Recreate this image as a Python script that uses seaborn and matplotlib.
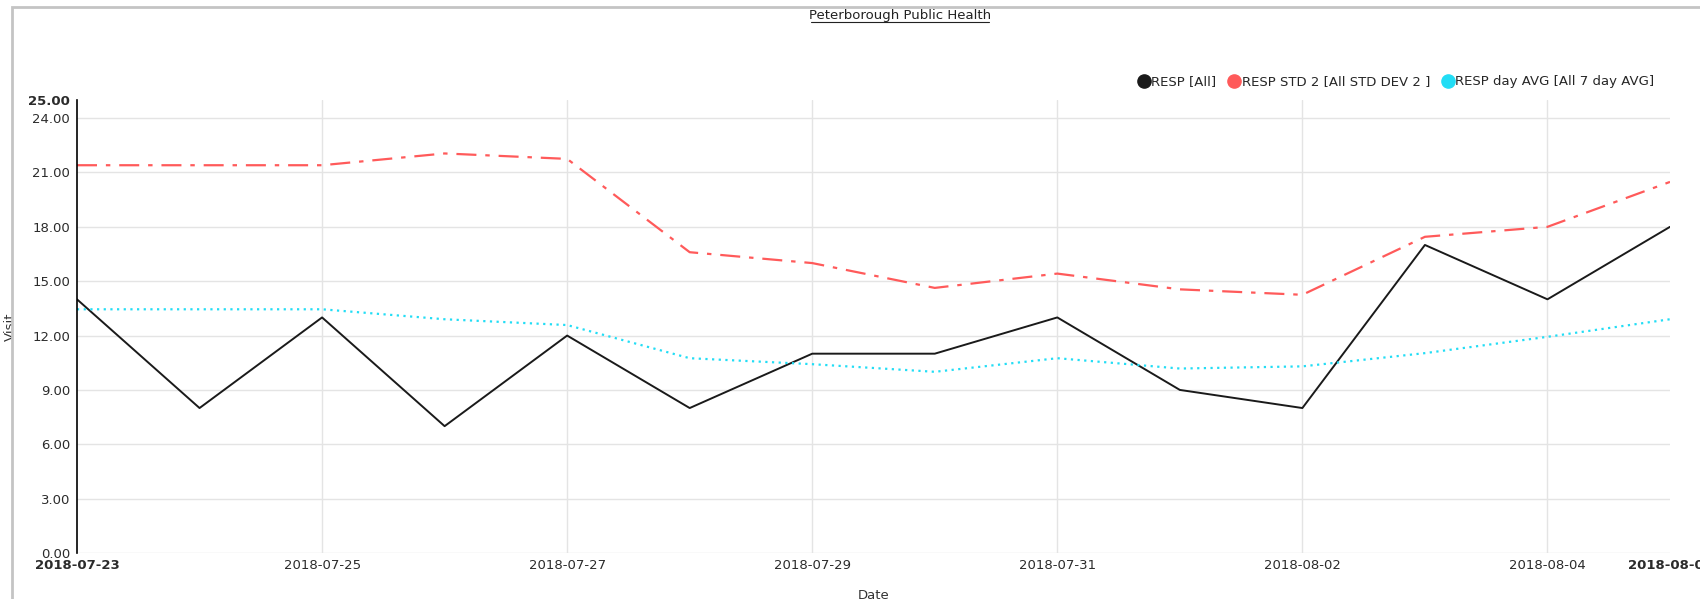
import numpy as np
import pandas as pd
import matplotlib
matplotlib.use("Agg")
import matplotlib.pyplot as plt
from matplotlib.lines import Line2D
from matplotlib.patches import Rectangle
import seaborn as sns

# --- Data ---
dates = pd.date_range("2018-07-23", "2018-08-05", freq="D")
resp_all = [14, 8, 13, 7, 12, 8, 11, 11, 13, 9, 8, 17, 14, 18]
resp_std2 = [21.4, 21.4, 21.4, 22.05, 21.75, 16.6, 16.0, 14.63, 15.42,
             14.55, 14.25, 17.45, 18.0, 20.48]
resp_avg7 = [13.45, 13.45, 13.45, 12.9, 12.58, 10.75, 10.42, 10.0, 10.75,
             10.18, 10.3, 11.03, 11.93, 12.9]

series_names = ["RESP [All]", "RESP STD 2 [All STD DEV 2 ]",
                "RESP day AVG [All 7 day AVG]"]
series_colors = ["#1a1a1a", "#ff5a5a", "#22ddf5"]

y_ticks = [0, 3, 6, 9, 12, 15, 18, 21, 24]
y_max = 25
subtitle = "Peterborough Public Health"

# --- Figure ---
sns.set_style("white")
plt.rcParams["font.family"] = ["DejaVu Sans"]
fig = plt.figure(figsize=(17, 5.99), dpi=100)
ax = fig.add_axes([77 / 1700, 1 - 553 / 599, (1670 - 77) / 1700, (553 - 100) / 599])

sns.lineplot(x=dates, y=resp_all, ax=ax, color=series_colors[0], lw=1.4)
sns.lineplot(x=dates, y=resp_std2, ax=ax, color=series_colors[1], lw=1.6,
             dashes=False).lines[-1].set_dashes((9, 4, 2, 4))
sns.lineplot(x=dates, y=resp_avg7, ax=ax, color=series_colors[2], lw=1.6,
             dashes=False).lines[-1].set_dashes((1, 2))

ax.set_xlim(dates[0], dates[-1])
ax.set_ylim(0, y_max)

# y ticks, plus bold axis max
ax.set_yticks(y_ticks + [y_max])
ax.set_yticklabels([f"{v:.2f}" for v in y_ticks + [y_max]])
ax.get_yticklabels()[-1].set_fontweight("bold")
ax.get_yticklabels()[-1].set_color("black")

# x ticks every 2 days, plus bold ends
xt = [dates[0]] + list(dates[2:-1:2]) + [dates[-1]]
ax.set_xticks(xt)
ax.set_xticklabels([d.strftime("%Y-%m-%d") for d in xt])
for i in (0, -1):
    ax.get_xticklabels()[i].set_fontweight("bold")
    ax.get_xticklabels()[i].set_color("black")

ax.tick_params(axis="both", length=0, labelsize=9.5, labelcolor="#2b2b2b", pad=5)
ax.tick_params(axis="x", pad=4)

# grid (not at the bold ends)
for v in y_ticks:
    ax.axhline(v, color="#e4e4e4", lw=1, zorder=0)
for d in dates[2:-1:2]:
    ax.axvline(d, color="#e4e4e4", lw=1, zorder=0)

for s in ["top", "right", "bottom"]:
    ax.spines[s].set_visible(False)
ax.spines["left"].set_color("black")
ax.spines["left"].set_linewidth(1.2)

ax.set_xlabel("Date", fontsize=9.5, color="#333333")
ax.set_ylabel("Visit", fontsize=9.5, color="#333333")
ax.yaxis.set_label_coords((17 - 77) / 1593, 0.5)
ax.xaxis.set_label_coords(0.5, (553 - 589) / 453)

# legend
handles = [Line2D([], [], marker="o", ls="none", color=c, markersize=9.5)
           for c in series_colors]
fig.legend(handles, series_names, loc="center right",
           bbox_to_anchor=(1666 / 1700, 1 - 82 / 599), ncol=3, frameon=False,
           fontsize=9.5, handletextpad=-0.05, columnspacing=0.75, handlelength=1.2)

# subtitle (underlined)
fig.text(900 / 1700, 1 - 15 / 599, subtitle, ha="center", va="center",
         fontsize=9.5, color="#222222")
fig.add_artist(Line2D([811 / 1700, 989 / 1700], [1 - 22 / 599, 1 - 22 / 599],
                      color="#222222", lw=0.8, transform=fig.transFigure))

# outer frame
fig.add_artist(Rectangle((12 / 1700, -0.1), 1.0, 1.1 - 7 / 599, fill=False,
                         edgecolor="#c4c4c4", lw=2, transform=fig.transFigure))

fig.savefig("out.png", dpi=100)
